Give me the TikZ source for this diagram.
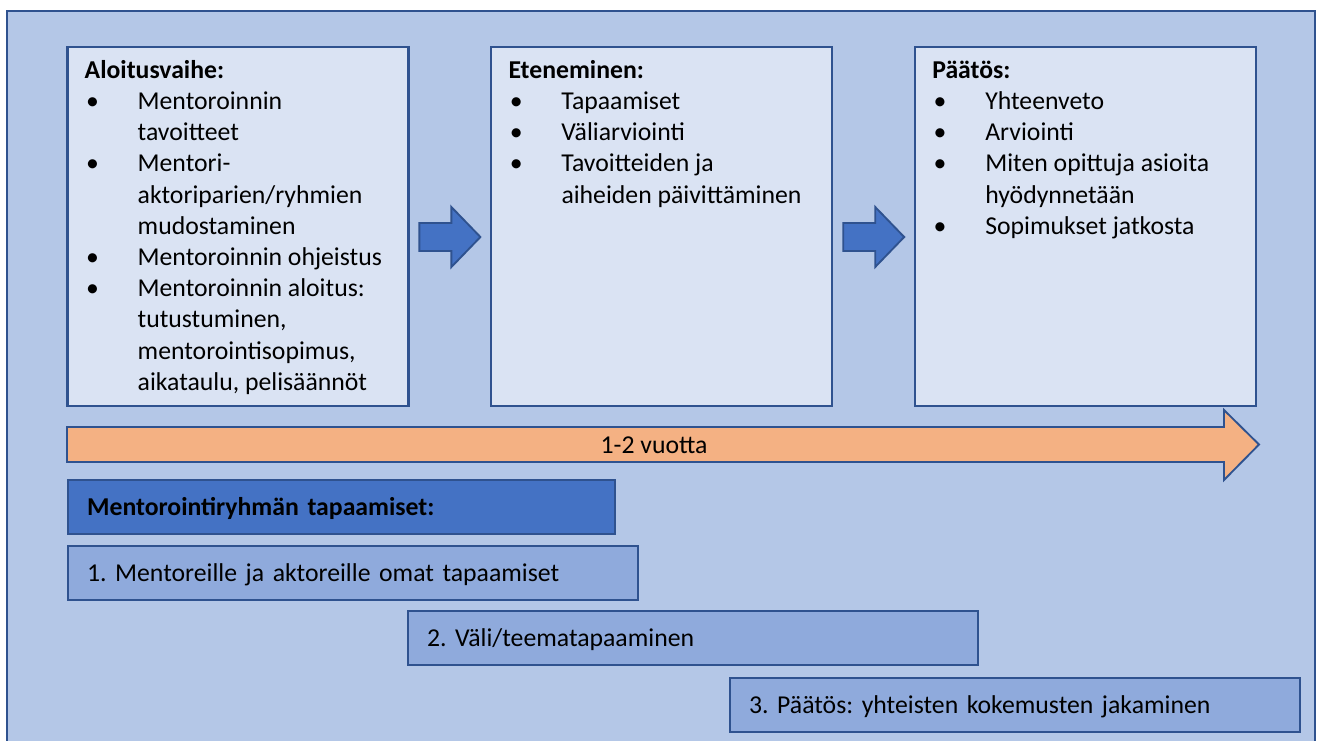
\documentclass[tikz,border=0pt]{standalone}
\usepackage{fontspec}
\setmainfont{Carlito}
\usetikzlibrary{positioning, calc}
\definecolor{mtFrame}{HTML}{B4C7E7}
\definecolor{mtPanel}{HTML}{DAE3F3}
\definecolor{mtEdge}{HTML}{2F528F}
\definecolor{mtBlue}{HTML}{4472C4}
\definecolor{mtBar}{HTML}{8FAADC}
\definecolor{mtOrange}{HTML}{F4B183}
\newcommand{\lstbul}{\makebox[39.75pt][l]{\hspace*{1pt}•}}
\newcommand{\lstind}{\hspace*{39.75pt}}
\newcommand{\lsttop}{\rule{0pt}{18pt}}
\frenchspacing

\begin{document}
\begin{tikzpicture}[x=0.75pt, y=-0.75pt,
    every node/.style={font=\fontsize{19.3}{23.4}\selectfont, text=black},
    panel/.style={draw=mtEdge, line width=1.6pt, fill=mtPanel,
      minimum width=255.75pt, minimum height=269.25pt, inner sep=0pt},
    listtxt/.style={anchor=north west, align=left, inner sep=0pt},
    blockarrow/.style={draw=mtEdge, line width=1.4pt, line join=miter},
    bar/.style={draw=mtEdge, line width=1.6pt, fill=mtBar, anchor=north west,
      minimum height=40.5pt, text width=399pt, inner xsep=14.25pt, inner ysep=0pt,
      text height=14pt, text depth=1pt, align=left}]
  \useasboundingbox (0,0) rectangle (1317,740);
  \draw[draw=mtEdge, line width=1.5pt, fill=mtFrame] (7,11) rectangle (1315,770);

  % phases
  \node[panel] (alku) at (238,226.5) {};
  \node[panel, right=60.5pt of alku] (eten) {};
  \node[panel, right=60.5pt of eten] (paat) {};

  \node[listtxt] (alkuTxt) at ([shift={(18,8)}]alku.north west) {\lsttop\textbf{Aloitusvaihe:}\\
    \lstbul Mentoroinnin\\
    \lstind tavoitteet\\
    \lstbul Mentori-\\
    \lstind aktoriparien/ryhmien\\
    \lstind mudostaminen\\
    \lstbul Mentoroinnin ohjeistus\\
    \lstbul Mentoroinnin aloitus:\\
    \lstind tutustuminen,\\
    \lstind mentorointisopimus,\\
    \lstind aikataulu, pelisäännöt};
  \node[listtxt] (etenTxt) at ([shift={(18,8)}]eten.north west) {\lsttop\textbf{Eteneminen:}\\
    \lstbul Tapaamiset\\
    \lstbul Väliarviointi\\
    \lstbul Tavoitteiden ja\\
    \lstind aiheiden päivittäminen};
  \node[listtxt] (paatTxt) at ([shift={(18,8)}]paat.north west) {\lsttop\textbf{Päätös:}\\
    \lstbul Yhteenveto\\
    \lstbul Arviointi\\
    \lstbul Miten opittuja asioita\\
    \lstind hyödynnetään\\
    \lstbul Sopimukset jatkosta};

  % block arrows between phases
  \foreach \a/\b in {alku/eten, eten/paat}
    \draw[blockarrow, fill=mtBlue, shift={($(\a.east)!.5!(\b.west)+(0,10.5)$)}]
      (-30.5,-14) -- (1.5,-14) -- (1.5,-30) -- (30.5,0) -- (1.5,30) -- (1.5,14) -- (-30.5,14) -- cycle;

  % duration
  \draw[blockarrow, fill=mtOrange] (67,427) -- (1224,427) -- (1224,410) -- (1259,444.5)
    -- (1224,480) -- (1224,462) -- (67,462) -- cycle;
  \node (kesto) at (654,445) {1-2 vuotta};

  % meetings
  \node[bar, fill=mtBlue, text width=381.75pt] (ryhma) at (67,479) {\textbf{Mentorointiryhmän tapaamiset:}};
  \foreach \nm/\x/\y/\txt in {tapA/67/545/{1. Mentoreille ja aktoreille omat tapaamiset},
      tapB/407/610/{2. Väli/teematapaaminen}, tapC/729/677/{3. Päätös: yhteisten kokemusten jakaminen}}
    \node[bar] (\nm) at (\x,\y) {\txt};
\end{tikzpicture}
\end{document}
